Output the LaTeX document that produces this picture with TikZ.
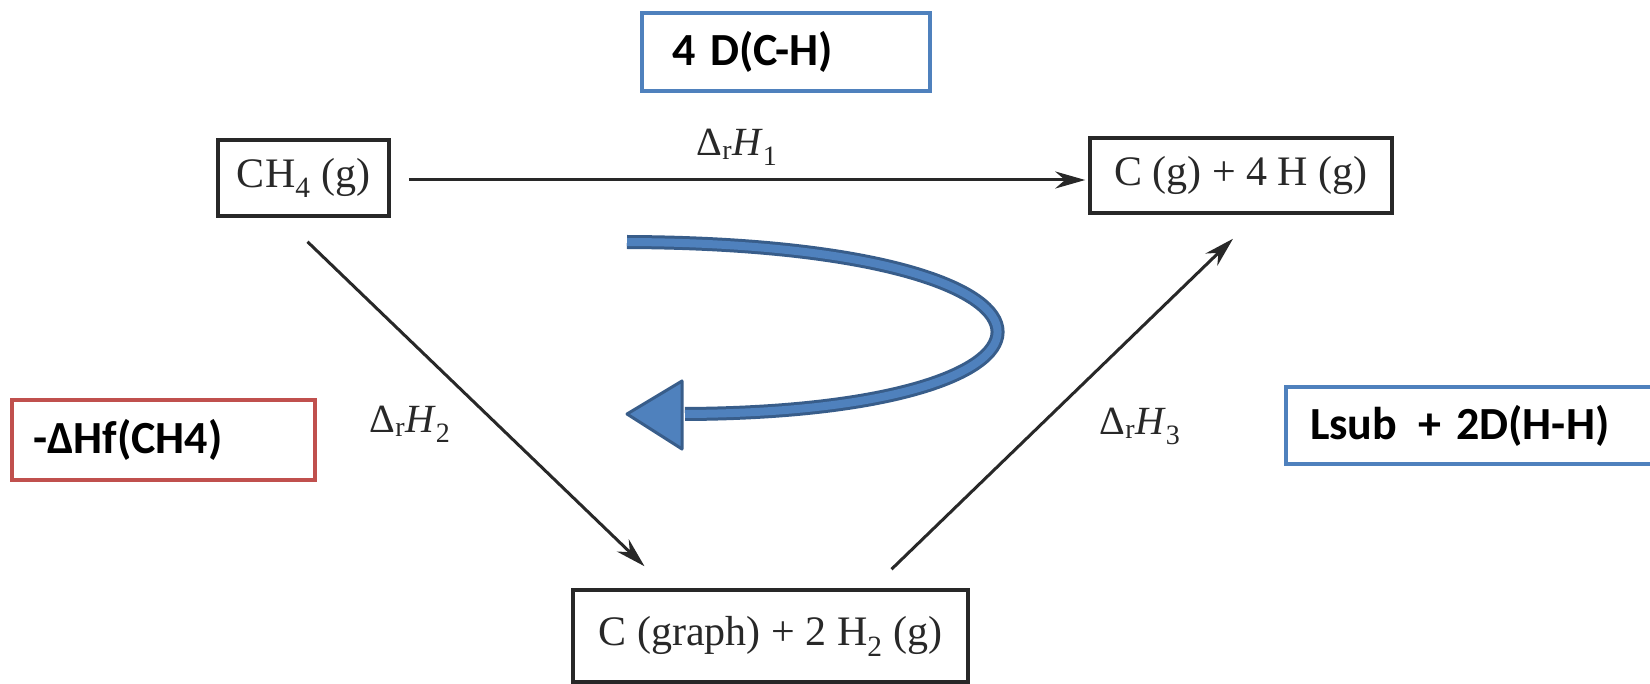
\documentclass[tikz,border=0pt]{standalone}
\usepackage{fontspec}
\usepackage{tikz}
\usepackage{xcolor}
\usetikzlibrary{arrows.meta, positioning, calc}
\setmainfont{Liberation Serif}
\newfontfamily\labelfont{Carlito}
\definecolor{cycleInk}{RGB}{40,40,40}
\definecolor{cycleBlue}{RGB}{79,129,189}
\definecolor{cycleEdge}{RGB}{56,93,138}
\definecolor{cycleRed}{RGB}{192,80,77}

\begin{document}
\begin{tikzpicture}[x=1pt, y=-1pt,
      species/.style={draw=cycleInk, line width=3.5pt, inner sep=0pt, text=cycleInk,
      font=\fontsize{42}{48}\selectfont},
      enthalpy/.style={text=cycleInk, inner sep=0pt, font=\fontsize{40}{46}\selectfont},
      energy/.style={line width=4pt, inner xsep=24pt, inner ysep=0pt, align=left,
      font=\labelfont\bfseries\fontsize{46}{52}\selectfont},
      arrow/.style={-{Stealth[length=30pt, width=17pt]}, line width=3pt, draw=cycleInk}
    ]
    \useasboundingbox[fill=white] (0,0) rectangle (1650,684);

    \node[species, minimum width=171pt, minimum height=76pt] (methane) at (303.5,178) {CH\textsubscript{4} (g)};
    \node[species, minimum width=302pt, minimum height=75pt] (atoms) at (1241,175.5) {C (g) + 4 H (g)};
    \node[species, minimum width=395pt, minimum height=92pt] (elements) at (770.5,636) {C (graph) + 2 H\textsubscript{2} (g)};

    \node[energy, draw=cycleBlue, text width=228pt, minimum height=78pt, inner xsep=30pt] (bondbox) at (786,52) {4 D(C-H)};
    \node[energy, draw=cycleRed, text width=261pt, minimum height=80pt, inner xsep=21pt] (formbox) at (163.5,440) {-ΔHf(CH4)};
    \node[energy, draw=cycleBlue, text width=332pt, minimum height=77pt] (subbox) at (1476,425.5) {Lsub\hspace{0.12em} + 2D(H-H)};

    \node[enthalpy] (dh1) at (737,147) {Δ\textsubscript{r}\textit{H}\textsubscript{1}};
    \node[enthalpy] (dh2) at (410,424) {Δ\textsubscript{r}\textit{H}\textsubscript{2}};
    \node[enthalpy] (dh3) at (1140,426) {Δ\textsubscript{r}\textit{H}\textsubscript{3}};

    \draw[arrow] ($(methane.east)+(18,2)$) -- ($(atoms.west)+(-3,4.5)$);
    \draw[arrow] ($(methane.south)+(4,24)$) -- ($(elements.north)+(-126,-22)$);
    \draw[arrow] ($(elements.north)+(121,-19)$) -- ($(atoms.south)+(-8,24)$);

    \coordinate (loopstart) at (627,242);
    \coordinate (looptip) at (627,414);
    \filldraw[fill=cycleBlue, draw=cycleEdge, line width=3pt, line join=round]
      ($(looptip)+(55,-33)$) -- (looptip) -- ($(looptip)+(55,35)$) -- cycle;
    \draw[draw=cycleEdge, line width=3pt, double=cycleBlue, double distance=8pt]
      (loopstart) .. controls (1112,244) and (1110,412) .. ($(looptip)+(58,0)$);
  \end{tikzpicture}
\end{document}
